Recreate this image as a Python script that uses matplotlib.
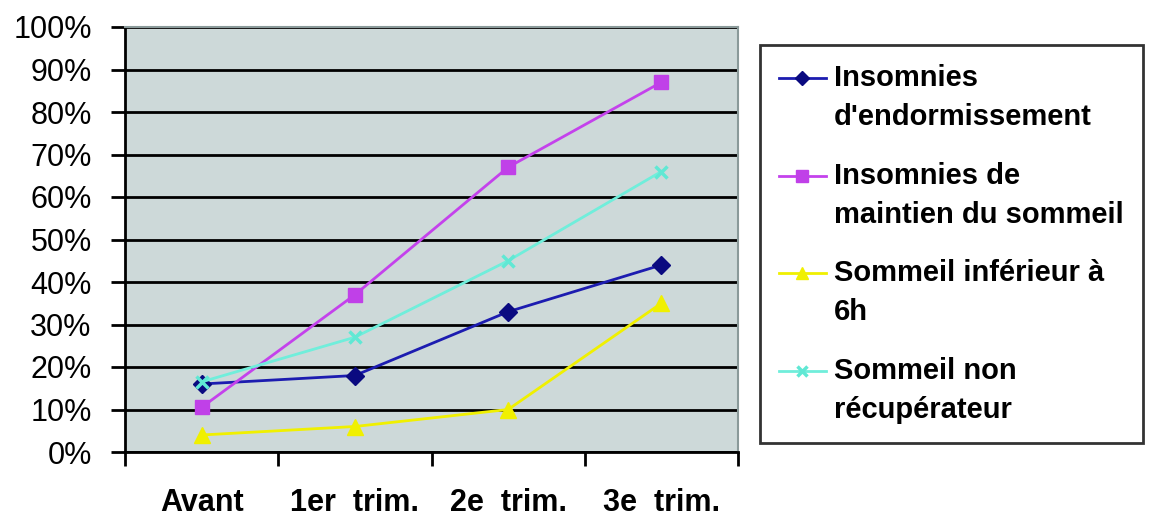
import matplotlib
matplotlib.use("Agg")
import matplotlib.pyplot as plt
from matplotlib.ticker import FixedLocator, NullFormatter, FixedFormatter
from matplotlib.legend_handler import HandlerLine2D

categories = ["Avant", "1er  trim.", "2e  trim.", "3e  trim."]
endormissement = [16, 18, 33, 44]
maintien = [10.5, 37, 67, 87]
inferieur_6h = [4, 6, 10, 35]
non_recuperateur = [16.5, 27, 45, 66]
y_ticks = [0, 10, 20, 30, 40, 50, 60, 70, 80, 90, 100]
y_labels = [f"{v}%" for v in y_ticks]

series = [
    ("Insomnies\nd'endormissement", endormissement, "#1c1cb0", "#0a0a80", "D", 9),
    ("Insomnies de\nmaintien du sommeil", maintien, "#c442ec", "#c040e8", "s", 10),
    ("Sommeil inférieur à\n6h", inferieur_6h, "#f0f000", "#f0f000", "^", 11),
    ("Sommeil non\nrécupérateur", non_recuperateur, "#70eedb", "#60e8d4", "x", 9),
]

plt.rcParams['font.family'] = ['Liberation Sans', 'DejaVu Sans']


class HandlerTop(HandlerLine2D):
    """Place the legend handle level with the first line of a two-line label."""
    shift = 14.5  # points

    def create_artists(self, legend, orig_handle, xdescent, ydescent,
                       width, height, fontsize, trans):
        arts = super().create_artists(legend, orig_handle, xdescent, ydescent,
                                      width, height, fontsize, trans)
        for a in arts:
            yd = a.get_ydata()
            a.set_ydata([v + self.shift for v in yd])
        return arts


fig = plt.figure(figsize=(11.55, 5.16), dpi=100)
ax = fig.add_axes([125/1155, 1-452/516, (738-125)/1155, (452-27)/516])
ax.set_facecolor("#cdd9d9")

x = list(range(len(categories)))
handles = []
for label, vals, lc, mc, mk, ms in series:
    h, = ax.plot(x, vals, color=lc, lw=2, marker=mk, markersize=ms,
                 markerfacecolor=mc, markeredgecolor=mc,
                 markeredgewidth=2.5 if mk == "x" else 1, label=label, zorder=3)
    handles.append(h)

ax.set_xlim(-0.5, 3.5)
ax.set_ylim(0, 100)
ax.set_yticks(y_ticks)
ax.set_yticklabels(y_labels)
ax.yaxis.grid(True, color="black", lw=2)
ax.set_axisbelow(True)

ax.xaxis.set_major_locator(FixedLocator([-0.5, 0.5, 1.5, 2.5, 3.5]))
ax.xaxis.set_major_formatter(NullFormatter())
ax.xaxis.set_minor_locator(FixedLocator(x))
ax.xaxis.set_minor_formatter(FixedFormatter(categories))
ax.tick_params(axis="x", which="major", length=10, width=2, direction="out")
ax.tick_params(axis="x", which="minor", length=0, pad=26, labelsize=22)
ax.tick_params(axis="y", length=10, width=2, direction="out", pad=14, labelsize=22)
for lab in ax.get_xticklabels(minor=True):
    lab.set_fontweight("bold")

ax.spines["left"].set_linewidth(2)
ax.spines["left"].set_color("black")
ax.spines["bottom"].set_linewidth(2)
ax.spines["bottom"].set_color("black")
ax.spines["top"].set_color("#8a9a9a")
ax.spines["top"].set_linewidth(1.5)
ax.spines["right"].set_color("#8a9a9a")
ax.spines["right"].set_linewidth(1.5)

leg = fig.legend(handles=handles, loc="upper left",
                 bbox_to_anchor=(760/1155, 1-45/516),
                 frameon=True, fancybox=False, edgecolor="black",
                 prop={"weight": "bold", "size": 21},
                 handlelength=1.6, handletextpad=0.28, labelspacing=1.05,
                 borderpad=0.65, borderaxespad=0, markerscale=0.8,
                 handler_map={h: HandlerTop() for h in handles})
leg.get_frame().set_linewidth(2)
for t in leg.get_texts():
    t.set_linespacing(1.5)

fig.savefig("out.png", dpi=100)
